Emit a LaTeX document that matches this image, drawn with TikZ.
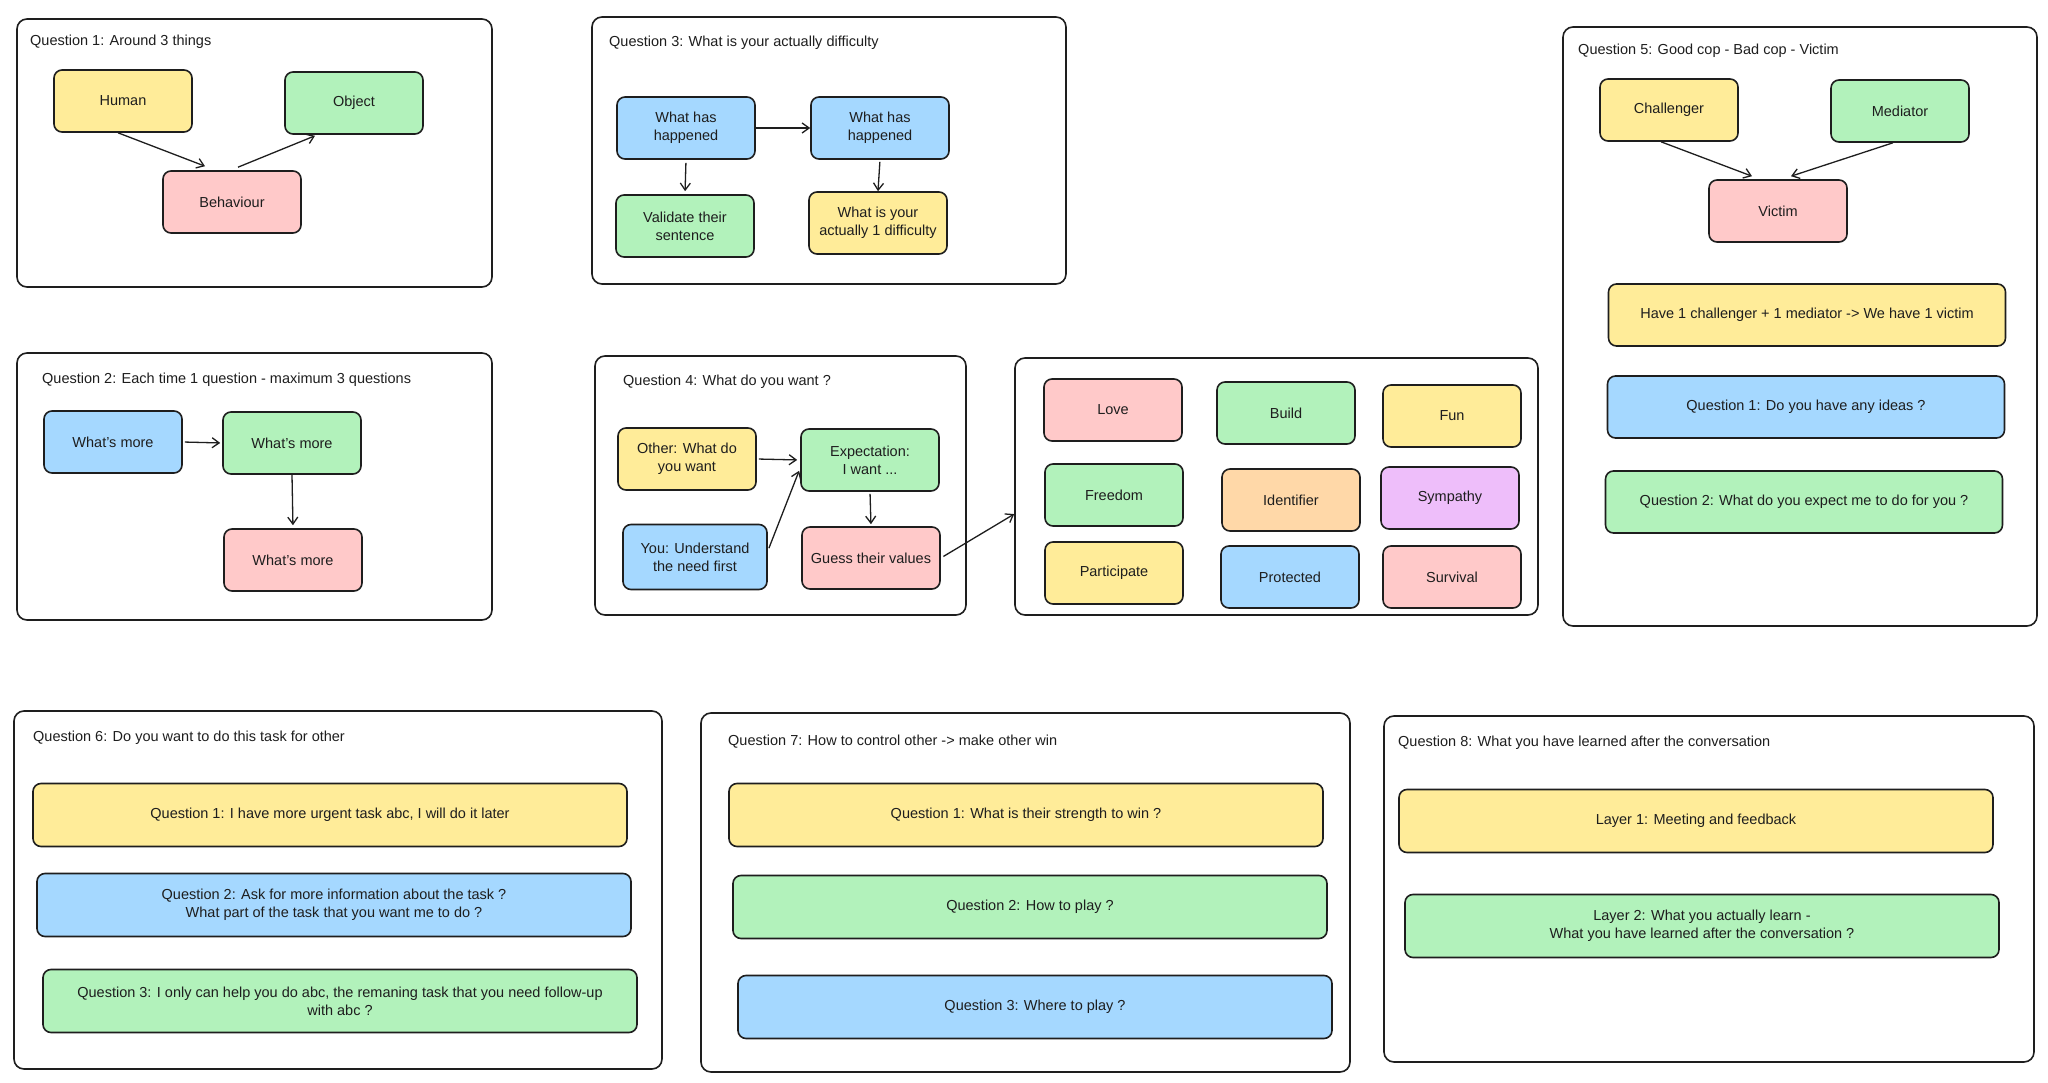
\documentclass[tikz,border=0pt]{standalone}
\usepackage{fontspec}
\setmainfont{Liberation Sans}
\usepackage{tikz}
\usetikzlibrary{positioning,arrows.meta}
\definecolor{ink}{HTML}{1E1E1E}
\definecolor{cyel}{HTML}{FFEC99}
\definecolor{cgrn}{HTML}{B2F2BB}
\definecolor{cpnk}{HTML}{FFC9C9}
\definecolor{cblu}{HTML}{A5D8FF}
\definecolor{corg}{HTML}{FFD8A8}
\definecolor{cvio}{HTML}{EEBEFA}

\begin{document}
\begin{tikzpicture}[x=1pt,y=-1pt,font=\fontsize{14.5}{18}\selectfont,text=ink,
  >={Straight Barb[length=7pt,width=10pt]}]
\tikzstyle{panel}=[draw=ink,line width=1.6pt,rounded corners=10pt]
\tikzstyle{ttl}=[anchor=west,inner sep=0pt]
\tikzstyle{box}=[draw=ink,line width=1.6pt,rounded corners=8pt,align=center,
  minimum width=138pt,minimum height=62pt,inner sep=2pt]
\tikzstyle{mid}=[box,minimum width=397pt]
\tikzstyle{wide}=[box,minimum width=594pt,minimum height=63pt]
\tikzstyle{arr}=[->,draw=ink,line width=1.3pt]
\useasboundingbox (0,0) rectangle (2048,1083);
\fill[white] (0,0) rectangle (2048,1083);

% question 1
\node[panel,minimum width=475pt,minimum height=268pt] (p1) at (254.5,153) {};
\node[ttl] (t1) at (30,42) {Question 1: Around 3 things};
\node[box,fill=cyel] (hum) at (123,101) {Human};
\node[box,fill=cgrn] (obj) at (354,103) {Object};
\node[box,fill=cpnk] (beh) at (232,202) {Behaviour};
\draw[arr] ([xshift=-5pt]hum.south) -- ([xshift=-27pt,yshift=4pt]beh.north);
\draw[arr] ([xshift=6pt,yshift=3pt]beh.north) -- ([xshift=-39pt,yshift=-1pt]obj.south);

% question 3
\node[panel,minimum width=474pt,minimum height=267pt] (p3) at (829,150.5) {};
\node[ttl] (t3) at (609,43) {Question 3: What is your actually difficulty};
\node[box,fill=cblu] (wh1) at (686,128) {What has\\happened};
\node[box,fill=cblu] (wh2) at (880,128) {What has\\happened};
\node[box,fill=cgrn] (val) at (685,226) {Validate their\\sentence};
\node[box,fill=cyel] (dif) at (878,223) {What is your\\actually 1 difficulty};
\draw[arr] (wh1.east) -- (wh2.west);
\draw[arr,shorten <=3pt,shorten >=3pt] (wh1.south) -- (val.north);
\draw[arr,shorten <=2pt] (wh2.south) -- (dif.north);

% question 5
\node[panel,minimum width=474pt,minimum height=599pt] (p5) at (1800,326.5) {};
\node[ttl] (t5) at (1578,51) {Question 5: Good cop - Bad cop - Victim};
\node[box,fill=cyel] (chl) at (1669,110) {Challenger};
\node[box,fill=cgrn] (med) at (1900,111) {Mediator};
\node[box,fill=cpnk] (vic) at (1778,211) {Victim};
\node[mid,fill=cyel] (have) at (1807,315) {Have 1 challenger + 1 mediator -> We have 1 victim};
\node[mid,fill=cblu] (q5a) at (1806,407) {Question 1: Do you have any ideas ?};
\node[mid,fill=cgrn] (q5b) at (1804,502) {Question 2: What do you expect me to do for you ?};
\draw[arr] ([xshift=-8pt]chl.south) -- ([xshift=-26pt,yshift=3pt]vic.north);
\draw[arr] ([xshift=-7pt]med.south) -- ([xshift=13pt,yshift=3pt]vic.north);

% question 2
\node[panel,minimum width=475pt,minimum height=267pt] (p2) at (254.5,486.5) {};
\node[ttl] (t2) at (42,380) {Question 2: Each time 1 question - maximum 3 questions};
\node[box,fill=cblu] (wm1) at (113,442) {What's more};
\node[box,fill=cgrn] (wm2) at (292,443) {What's more};
\node[box,fill=cpnk] (wm3) at (293,560) {What's more};
\draw[arr,shorten <=2pt,shorten >=2pt] (wm1.east) -- (wm2.west);
\draw[arr,shorten >=3pt] (wm2.south) -- (wm3.north);

% question 4
\node[panel,minimum width=371pt,minimum height=259pt] (p4) at (780.5,485.5) {};
\node[ttl] (t4) at (623,382) {Question 4: What do you want ?};
\node[box,fill=cyel] (oth) at (687,459) {Other: What do\\you want};
\node[box,fill=cgrn] (exq) at (870,460) {Expectation:\\I want ...};
\node[box,fill=cblu,minimum width=144pt,minimum height=65pt] (you) at (695,557) {You: Understand\\the need first};
\node[box,fill=cpnk] (gss) at (871,558) {Guess their values};
\draw[arr,shorten <=2pt,shorten >=3pt] (oth.east) -- (exq.west);
\draw[arr,shorten <=3pt,shorten >=3pt] ([yshift=6pt]you.east) -- ([yshift=-8pt]exq.west);
\draw[arr,shorten <=2pt,shorten >=2pt] (exq.south) -- (gss.north);

% values
\node[panel,minimum width=523pt,minimum height=257pt] (vals) at (1276.5,486.5) {};
\node[box,fill=cpnk] (lov) at (1113,410) {Love};
\node[box,fill=cgrn] (bld) at (1286,413) {Build};
\node[box,fill=cyel] (fun) at (1452,416) {Fun};
\node[box,fill=cgrn] (frd) at (1114,495) {Freedom};
\node[box,fill=corg] (idf) at (1291,500) {Identifier};
\node[box,fill=cvio] (sym) at (1450,498) {Sympathy};
\node[box,fill=cyel] (prt) at (1114,573) {Participate};
\node[box,fill=cblu] (prot) at (1290,577) {Protected};
\node[box,fill=cpnk] (srv) at (1452,577) {Survival};
\draw[arr,shorten <=3pt] (gss.east) -- (vals.186);

% question 6
\node[panel,minimum width=648pt,minimum height=358pt] (p6) at (338,890) {};
\node[ttl] (t6) at (33,738) {Question 6: Do you want to do this task for other};
\node[wide,fill=cyel] (q6a) at (330,815) {Question 1: I have more urgent task abc, I will do it later};
\node[wide,fill=cblu] (q6b) at (334,905) {Question 2: Ask for more information about the task ?\\What part of the task that you want me to do ?};
\node[wide,fill=cgrn] (q6c) at (340,1001) {Question 3: I only can help you do abc, the remaning task that you need follow-up\\with abc ?};

% question 7
\node[panel,minimum width=649pt,minimum height=359pt] (p7) at (1025.5,892.5) {};
\node[ttl] (t7) at (728,742) {Question 7: How to control other -> make other win};
\node[wide,fill=cyel] (q7a) at (1026,815) {Question 1: What is their strength to win ?};
\node[wide,fill=cgrn] (q7b) at (1030,907) {Question 2: How to play ?};
\node[wide,fill=cblu] (q7c) at (1035,1007) {Question 3: Where to play ?};

% question 8
\node[panel,minimum width=650pt,minimum height=346pt] (p8) at (1709,889) {};
\node[ttl] (t8) at (1398,743) {Question 8: What you have learned after the conversation};
\node[wide,fill=cyel] (ly1) at (1696,821) {Layer 1: Meeting and feedback};
\node[wide,fill=cgrn] (ly2) at (1702,926) {Layer 2: What you actually learn -\\What you have learned after the conversation ?};
\end{tikzpicture}
\end{document}
